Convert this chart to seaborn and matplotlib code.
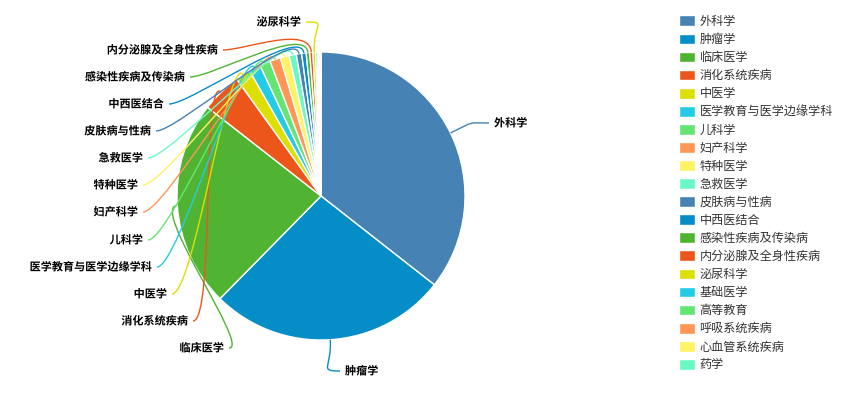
import numpy as np
import matplotlib
matplotlib.use("Agg")
import matplotlib.pyplot as plt
from matplotlib.path import Path
from matplotlib.patches import PathPatch
import matplotlib.patheffects as pe
import seaborn as sns

sns.set_style("white")
plt.rcParams["font.family"] = ["Noto Sans CJK SC", "DejaVu Sans"]

# Subject categories and their share of records
categories = [
    "外科学", "肿瘤学", "临床医学", "消化系统疾病", "中医学",
    "医学教育与医学边缘学科", "儿科学", "妇产科学", "特种医学", "急救医学",
    "皮肤病与性病", "中西医结合", "感染性疾病及传染病", "内分泌腺及全身性疾病", "泌尿科学",
    "基础医学", "高等教育", "呼吸系统疾病", "心血管系统疾病", "药学",
]
values = [356, 268, 232, 45, 17, 13, 12, 12, 10, 8,
          6, 5, 4, 3.5, 3, 2, 1.5, 1, 1, 0.5]

base_colors = ["#4682B4", "#058DC7", "#50B432", "#ED561B", "#DDDF00",
               "#24CBE5", "#64E572", "#FF9655", "#FFF263", "#6AF9C4"]
palette = sns.color_palette(base_colors * 2)

W, H = 851, 411
CX, CY, R = 321, 196, 144


def fy(y):
    """Pixel row (top-down) to axis y."""
    return H - y


# Label slots: line end point (x, y) and side of the pie
label_slots = {
    "外科学": (489, 123, "right"),
    "肿瘤学": (340, 371, "right"),
    "临床医学": (229, 348, "left"),
    "消化系统疾病": (193, 321, "left"),
    "中医学": (172, 294, "left"),
    "医学教育与医学边缘学科": (157, 267, "left"),
    "儿科学": (148, 240, "left"),
    "妇产科学": (143, 212, "left"),
    "特种医学": (143, 185, "left"),
    "急救医学": (148, 158, "left"),
    "皮肤病与性病": (156, 131, "left"),
    "中西医结合": (169, 104, "left"),
    "感染性疾病及传染病": (190, 77, "left"),
    "内分泌腺及全身性疾病": (223, 50, "left"),
    "泌尿科学": (306, 22, "left"),
}

fig = plt.figure(figsize=(W / 100, H / 100), dpi=100)
ax = fig.add_axes([0, 0, 1, 1])

wedges, _ = ax.pie(
    values, colors=palette, startangle=90, counterclock=False,
    center=(CX, fy(CY)), radius=R, frame=True,
    wedgeprops=dict(edgecolor="white", linewidth=1),
)
ax.set_xlim(0, W)
ax.set_ylim(0, H)
ax.set_aspect("equal")
ax.axis("off")

halo = [pe.withStroke(linewidth=2, foreground="white")]

for name, w, col in zip(categories, wedges, palette):
    if name not in label_slots:
        continue
    ex, ey, side = label_slots[name]
    mid = np.deg2rad((w.theta1 + w.theta2) / 2)
    dx, dy = np.cos(mid), np.sin(mid)
    p0 = (CX + R * dx, fy(CY) + R * dy)
    c1 = (CX + (R + 28) * dx, fy(CY) + (R + 28) * dy)
    shift = 22 if side == "left" else -22
    c2 = (ex + shift, fy(ey))
    p3 = (ex, fy(ey))
    path = Path([p0, c1, c2, p3], [Path.MOVETO, Path.CURVE4, Path.CURVE4, Path.CURVE4])
    ax.add_patch(PathPatch(path, facecolor="none", edgecolor=col, linewidth=1))
    if side == "left":
        ax.text(ex - 5, fy(ey), name, ha="right", va="center", fontsize=8,
                color="black", fontweight="bold", path_effects=halo)
    else:
        ax.text(ex + 5, fy(ey), name, ha="left", va="center", fontsize=8,
                color="black", fontweight="bold", path_effects=halo)

leg = ax.legend(
    wedges, categories, loc="upper left",
    bbox_to_anchor=(679 / W, 1 - 15 / H), frameon=False,
    fontsize=8.7, handlelength=1.32, handleheight=1.0,
    handletextpad=0.38, labelspacing=0.42, borderpad=0, borderaxespad=0,
)
for t in leg.get_texts():
    t.set_color("#333333")

fig.savefig("out.png", dpi=100)
